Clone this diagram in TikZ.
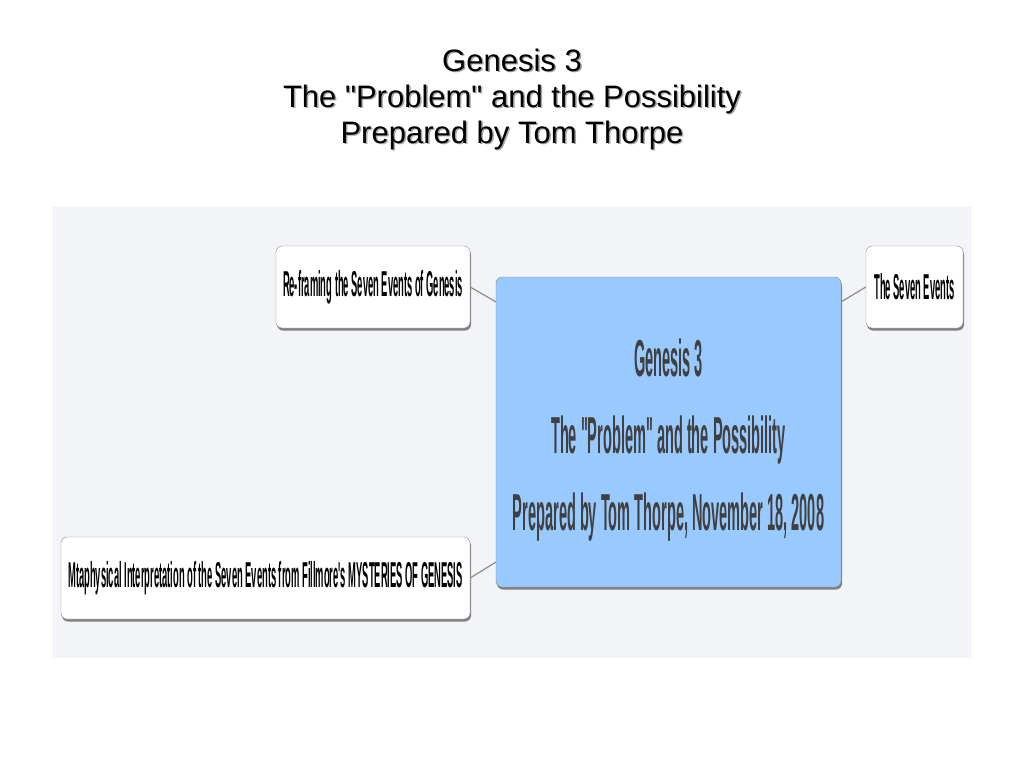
\documentclass[tikz,border=0pt]{standalone}
\usepackage{fontspec}
\usepackage{xcolor}
\usetikzlibrary{shadows}
\setmainfont{Liberation Sans}
\newfontfamily\narrowfont[FakeStretch=0.28]{Liberation Sans}
\newfontfamily\slimfont[FakeStretch=0.26]{Liberation Sans}
\definecolor{panelgray}{RGB}{242,244,247}
\definecolor{topicblue}{RGB}{153,202,255}
\definecolor{edgegray}{RGB}{140,140,140}
\definecolor{inkgray}{RGB}{64,64,64}

\begin{document}
\begin{tikzpicture}[x=1pt, y=-1pt,
    topic/.style={draw=edgegray, rounded corners=6pt, inner sep=0pt, align=center,
      drop shadow={shadow xshift=1pt, shadow yshift=-2.5pt, fill=black!50, opacity=1}},
    subtopic/.style={topic, fill=white, minimum height=82pt,
      font=\slimfont\bfseries\fontsize{36}{40}\selectfont},
    link/.style={draw=edgegray, line width=1.2pt}]
  % Page
  \fill[white] (0, 0) rectangle (1024, 768);
  \useasboundingbox (0, 0) rectangle (1024, 768);

  % Title (with its soft shadow)
  \node[text=black!35, align=center, font=\fontsize{31}{36}\selectfont] (titleshade) at (513.5, 100.5)
     {Genesis 3\\The \textquotedbl Problem\textquotedbl{} and the Possibility\\Prepared by Tom Thorpe};
  \node[align=center, font=\fontsize{31}{36}\selectfont] (title) at (512, 99)
     {Genesis 3\\The \textquotedbl Problem\textquotedbl{} and the Possibility\\Prepared by Tom Thorpe};

  % Map panel
  \fill[panelgray] (52, 207) rectangle (972, 658);

  % Central topic (empty first line pushes the text down a bit)
  \node[topic, fill=topicblue, minimum width=345pt, minimum height=310pt, text=inkgray,
     font=\narrowfont\bfseries\fontsize{52}{77}\selectfont] (main) at (668.5, 432)
     {\\[-24pt]Genesis 3\\The "Problem" and the Possibility\\Prepared by Tom Thorpe, November 18, 2008};

  % Sub topics
  \node[subtopic, minimum width=194pt] (reframe) at (373, 287)
     {Re-framing the Seven Events of Genesis};
  \node[subtopic, minimum width=97pt] (events) at (914.5, 287)
     {The Seven Events};
  \node[subtopic, minimum width=409pt] (fillmore) at (265.5, 578)
     {Mtaphysical Interpretation of the Seven Events from Fillmore's MYSTERIES OF GENESIS};

  % Links
  \draw[link] (reframe.east) -- (main.143);
  \draw[link] (events.west) -- (main.37);
  \draw[link] (fillmore.east) -- (main.217);
\end{tikzpicture}
\end{document}
